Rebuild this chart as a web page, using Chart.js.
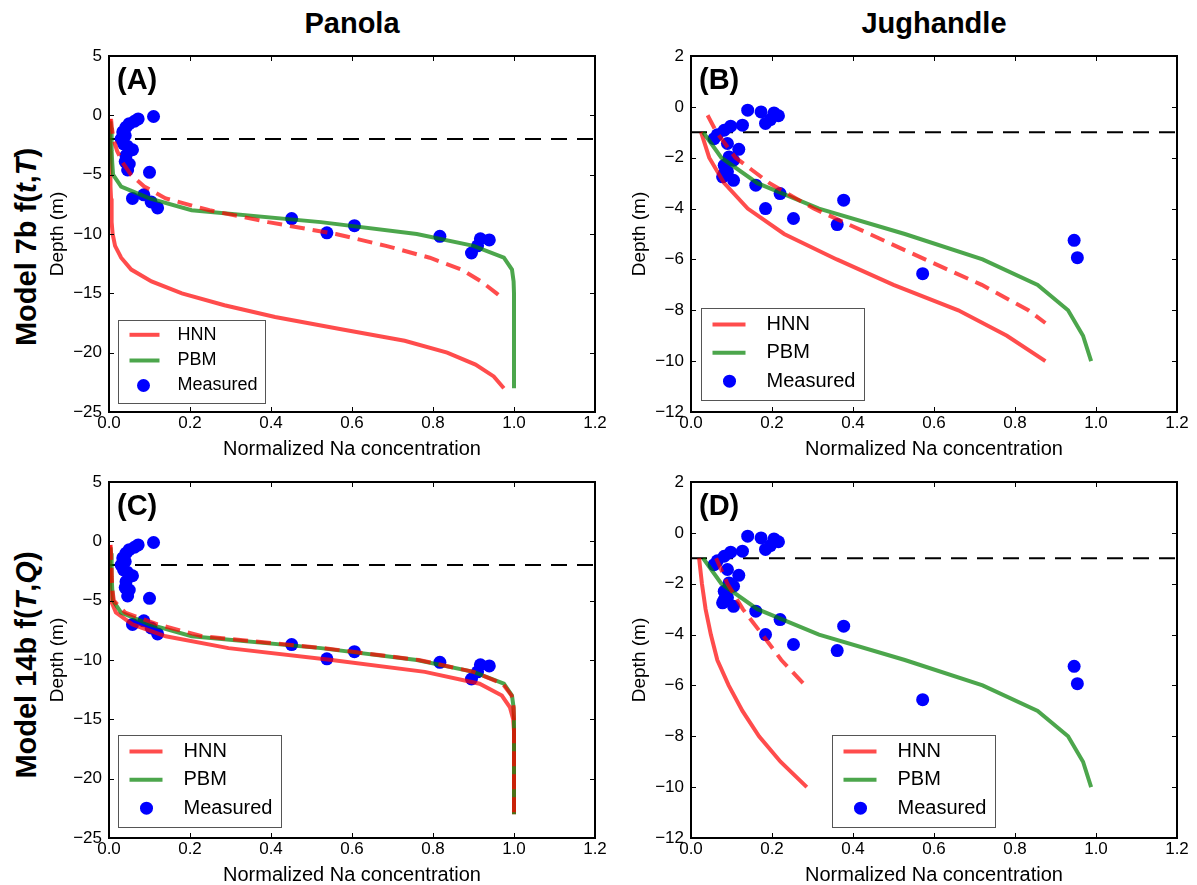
<!DOCTYPE html>
<html><head><meta charset="utf-8">
<script src="https://cdn.jsdelivr.net/npm/chart.js@4/dist/chart.umd.min.js"></script>
<style>
html,body{margin:0;padding:0;background:#fff;}
#wrap{position:relative;width:1197px;height:885px;overflow:hidden;font-family:'Liberation Sans',Arial,sans-serif;color:#000;}
canvas{position:absolute;}
.coltitle{position:absolute;font-weight:bold;font-size:29px;line-height:1;transform:translate(-50%,-50%);white-space:nowrap;}
.rowtitle{position:absolute;font-weight:bold;font-size:29px;line-height:1;transform:translate(-50%,-50%) rotate(-90deg);white-space:nowrap;}
</style></head>
<body><div id="wrap">
<div class="coltitle" style="left:352px;top:23px">Panola</div>
<div class="coltitle" style="left:934px;top:23px">Jughandle</div>
<div class="rowtitle" style="left:26px;top:247px">Model 7b f(<i>t</i>,<i>T</i>)</div>
<div class="rowtitle" style="left:26px;top:665px">Model 14b f(<i>T</i>,<i>Q</i>)</div>
<canvas id="cA" width="575" height="431" style="left:34px;top:38px"></canvas>
<canvas id="cB" width="575" height="431" style="left:616px;top:38px"></canvas>
<canvas id="cC" width="575" height="431" style="left:34px;top:464px"></canvas>
<canvas id="cD" width="575" height="431" style="left:616px;top:464px"></canvas>
</div>
<script>
// ---------- tick labels / text ----------
const xTickValues = [0, 0.2, 0.4, 0.6, 0.8, 1.0, 1.2];
const panolaYTicks = [5, 0, -5, -10, -15, -20, -25];
const jughandleYTicks = [2, 0, -2, -4, -6, -8, -10, -12];
const legendLabels = ['HNN', 'PBM', 'Measured'];
const panelLabels = ['(A)', '(B)', '(C)', '(D)'];
const xTitle = 'Normalized Na concentration';
const yTitle = 'Depth (m)';

// ---------- boundary (dashed black) depths ----------
const panolaBoundaryDepth = -2;
const jughandleBoundaryDepth = -1;

// ---------- measured ----------
const panolaMeasuredConc  = [0.110, 0.072, 0.063, 0.050, 0.042, 0.034, 0.030, 0.036, 0.040, 0.058, 0.045, 0.042, 0.050, 0.046, 0.040, 0.100, 0.058, 0.086, 0.104, 0.120, 0.451, 0.538, 0.606, 0.817, 0.895, 0.910, 0.917, 0.939];
const panolaMeasuredDepth = [-0.1, -0.3, -0.5, -0.7, -1.0, -1.4, -2.0, -2.4, -1.7, -2.9, -2.6, -3.4, -4.1, -4.6, -3.9, -4.8, -7.0, -6.7, -7.3, -7.8, -8.7, -9.9, -9.3, -10.2, -11.6, -11.0, -10.4, -10.5];

const jugMeasuredConc  = [0.140, 0.173, 0.205, 0.216, 0.184, 0.196, 0.127, 0.098, 0.082, 0.065, 0.057, 0.090, 0.118, 0.094, 0.105, 0.082, 0.090, 0.082, 0.078, 0.105, 0.160, 0.220, 0.377, 0.184, 0.253, 0.361, 0.572, 0.946, 0.954];
const jugMeasuredDepth = [-0.13, -0.20, -0.24, -0.35, -0.65, -0.50, -0.72, -0.76, -0.92, -1.10, -1.25, -1.44, -1.67, -1.97, -2.10, -2.30, -2.55, -2.62, -2.75, -2.89, -3.08, -3.41, -3.67, -4.00, -4.39, -4.63, -6.56, -5.25, -5.93];

// ---------- PBM ----------
const panolaPbmDepth = [-0.5, -1, -2, -3, -4, -5, -6, -7, -8, -9, -10, -11, -12, -13, -14, -15, -16, -17, -18, -19, -20, -21, -22, -23];
const panolaPbmConc  = [0.004, 0.005, 0.006, 0.007, 0.008, 0.010, 0.030, 0.100, 0.204, 0.523, 0.760, 0.900, 0.975, 0.995, 0.999, 1.0, 1.0, 1.0, 1.0, 1.0, 1.0, 1.0, 1.0, 1.0];

const jugPbmDepth = [-1, -2, -3, -4, -5, -6, -7, -8, -9, -10];
const jugPbmConc  = [0.030, 0.075, 0.164, 0.316, 0.528, 0.720, 0.856, 0.931, 0.968, 0.988];

// ---------- HNN, Model 7b ----------
const panola7bHnnDepth = [-0.3, -1, -2, -3, -4, -5, -6, -7, -8, -9, -10, -11, -12, -13, -14, -15, -16, -17, -18, -19, -20, -21, -22, -23];
const panola7bHnnConc  = [0.001, 0.002, 0.002, 0.003, 0.003, 0.004, 0.004, 0.005, 0.006, 0.007, 0.009, 0.015, 0.030, 0.055, 0.105, 0.180, 0.285, 0.410, 0.570, 0.730, 0.835, 0.905, 0.950, 0.975];
const panola7bHnnDashDepth = [-0.3, -1, -2, -3, -4, -5, -6, -7, -8, -9, -10, -11, -12, -13, -14, -15, -15.5];
const panola7bHnnDashConc  = [0.005, 0.007, 0.011, 0.020, 0.034, 0.054, 0.087, 0.140, 0.248, 0.393, 0.560, 0.684, 0.792, 0.871, 0.919, 0.957, 0.975];

const jug7bHnnDepth = [-1, -2, -3, -4, -5, -6, -7, -8, -9, -10];
const jug7bHnnConc  = [0.025, 0.045, 0.082, 0.140, 0.230, 0.360, 0.500, 0.660, 0.780, 0.875];
const jug7bHnnDashDepth = [-0.33, -1, -2, -3, -4, -5, -6, -7, -8, -8.5];
const jug7bHnnDashConc  = [0.041, 0.063, 0.110, 0.194, 0.303, 0.441, 0.578, 0.718, 0.833, 0.875];

// ---------- HNN, Model 14b ----------
const panola14bHnnDepth = [-0.3, -1, -2, -3, -4, -5, -6, -7, -8, -9, -10, -11, -12, -13, -14, -15, -16, -17, -18, -19, -20, -21, -22, -23];
const panola14bHnnConc  = [0.002, 0.002, 0.002, 0.003, 0.003, 0.005, 0.017, 0.058, 0.140, 0.295, 0.550, 0.780, 0.915, 0.970, 0.990, 0.998, 1, 1, 1, 1, 1, 1, 1, 1];
const panola14bHnnDashDepth = [-0.3, -1, -2, -3, -4, -5, -6, -7, -8, -9, -10, -11, -12, -13, -14, -15, -16, -17, -18, -19, -20, -21, -22, -23];
const panola14bHnnDashConc  = [0.004, 0.005, 0.006, 0.007, 0.008, 0.012, 0.040, 0.120, 0.230, 0.530, 0.765, 0.900, 0.972, 0.994, 0.999, 1, 1, 1, 1, 1, 1, 1, 1, 1];

const jug14bHnnDepth = [-1, -2, -3, -4, -5, -6, -7, -8, -9, -10];
const jug14bHnnConc  = [0.020, 0.027, 0.036, 0.049, 0.065, 0.093, 0.127, 0.168, 0.221, 0.286];
const jug14bHnnDashDepth = [-1, -2, -3, -4, -5, -6, -6.1];
const jug14bHnnDashConc  = [0.062, 0.090, 0.128, 0.176, 0.223, 0.282, 0.290];

// ---------- styling ----------
const FONT = "'Liberation Sans', Arial, sans-serif";
const RED = 'rgba(255,0,0,0.7)';
const GREEN = 'rgba(0,128,0,0.7)';
const BLUE = '#0000ff';
const MARKER_R = 6.5;

const pts = (xs, ys) => xs.map((v, i) => ({x: v, y: ys[i]}));
const fmtY = v => (v < 0 ? '\u2212' + Math.abs(v) : String(v));

const frameTicks = {
  id: 'frameTicks',
  afterDatasetsDraw(chart) {
    const {ctx, chartArea: ca, scales: {x, y}} = chart;
    ctx.save();
    ctx.strokeStyle = '#000';
    ctx.lineWidth = 1;
    ctx.beginPath();
    x.ticks.forEach(t => {
      const px = Math.round(x.getPixelForValue(t.value)) + 0.5;
      ctx.moveTo(px, ca.bottom); ctx.lineTo(px, ca.bottom - 5);
      ctx.moveTo(px, ca.top); ctx.lineTo(px, ca.top + 5);
    });
    y.ticks.forEach(t => {
      const py = Math.round(y.getPixelForValue(t.value)) + 0.5;
      ctx.moveTo(ca.left, py); ctx.lineTo(ca.left + 5, py);
      ctx.moveTo(ca.right, py); ctx.lineTo(ca.right - 5, py);
    });
    ctx.stroke();
    ctx.lineWidth = 2;
    ctx.strokeRect(ca.left, ca.top, ca.right - ca.left, ca.bottom - ca.top);
    ctx.restore();
  }
};

const boxLegend = {
  id: 'boxLegend',
  afterDraw(chart, args, o) {
    const {ctx, chartArea: ca} = chart;
    const x0 = Math.round(ca.left + o.x) + 0.5, y0 = Math.round(ca.top + o.y) + 0.5;
    ctx.save();
    ctx.fillStyle = '#fff';
    ctx.fillRect(x0, y0, o.w, o.h);
    ctx.strokeStyle = '#555';
    ctx.lineWidth = 1;
    ctx.strokeRect(x0, y0, o.w, o.h);
    const ds = chart.data.datasets;
    legendLabels.forEach((lab, i) => {
      const d = ds.find(e => e.label === lab);
      const cy = y0 + o.rowY[i];
      if (d.showLine) {
        ctx.strokeStyle = d.borderColor;
        ctx.lineWidth = d.borderWidth;
        ctx.setLineDash([]);
        ctx.beginPath();
        ctx.moveTo(x0 + o.lineX[0], cy);
        ctx.lineTo(x0 + o.lineX[1], cy);
        ctx.stroke();
      } else {
        ctx.fillStyle = d.pointBackgroundColor;
        ctx.beginPath();
        ctx.arc(x0 + o.markerX, cy, d.pointRadius, 0, Math.PI * 2);
        ctx.fill();
      }
      ctx.fillStyle = '#000';
      ctx.font = o.font + 'px ' + FONT;
      ctx.textBaseline = 'middle';
      ctx.textAlign = 'left';
      ctx.fillText(lab, x0 + o.textX, cy);
    });
    // panel tag
    ctx.font = 'bold 29px ' + FONT;
    ctx.textBaseline = 'alphabetic';
    ctx.fillStyle = '#000';
    ctx.fillText(o.tag, ca.left + 8, ca.top + 33);
    ctx.restore();
  }
};

function makePanel(p) {
  return new Chart(document.getElementById(p.id), {
    type: 'scatter',
    data: {datasets: [
      {label: 'boundary', data: pts([0, 1.2], [p.boundary, p.boundary]), showLine: true,
       borderColor: '#000', borderWidth: 2, borderDash: [16, 10], pointRadius: 0, order: 5},
      {label: 'Measured', data: pts(p.mx, p.my), showLine: false, pointRadius: MARKER_R,
       pointBackgroundColor: BLUE, pointBorderWidth: 0, pointBorderColor: BLUE, order: 4},
      {label: 'HNN', data: pts(p.hx, p.hy), showLine: true, borderColor: RED, borderWidth: 4,
       pointRadius: 0, order: 3},
      {label: 'PBM', data: pts(p.gx, p.gy), showLine: true, borderColor: GREEN, borderWidth: 4,
       pointRadius: 0, order: 2},
      {label: 'HNN dashed', data: pts(p.dx, p.dy), showLine: true, borderColor: RED, borderWidth: 4,
       borderDash: [15, 8], pointRadius: 0, order: 1}
    ]},
    options: {
      responsive: false, animation: false, devicePixelRatio: 1,
      layout: {padding: {top: 18, right: 14, left: 0, bottom: 0}},
      plugins: {legend: {display: false}, tooltip: {enabled: false},
                boxLegend: Object.assign({tag: p.tag}, p.legend)},
      scales: {
        x: {type: 'linear', min: 0, max: 1.2,
            afterBuildTicks: s => { s.ticks = xTickValues.map(v => ({value: v})); },
            afterFit: s => { s.height = 57; },
            ticks: {callback: v => v.toFixed(1), padding: 1, color: '#000', maxRotation: 0, autoSkip: false,
                    font: {family: FONT, size: 17}},
            grid: {display: false, drawTicks: false}, border: {display: false},
            title: {display: true, text: xTitle, color: '#000', font: {family: FONT, size: 20},
                    padding: {top: 0, bottom: 8}}},
        y: {type: 'linear', min: p.yTicks[p.yTicks.length - 1], max: p.yTicks[0],
            afterBuildTicks: s => { s.ticks = p.yTicks.slice().reverse().map(v => ({value: v})); },
            afterFit: s => { s.width = 75; },
            ticks: {callback: v => fmtY(v), padding: 7, color: '#000', autoSkip: false,
                    font: {family: FONT, size: 17}},
            grid: {display: false, drawTicks: false}, border: {display: false},
            title: {display: true, text: yTitle, color: '#000', font: {family: FONT, size: 19},
                    padding: {top: 12, bottom: 0}}}
      }
    },
    plugins: [frameTicks, boxLegend]
  });
}

const legendSmall = {x: 9, y: 264, w: 147, h: 83, font: 18, rowY: [14.3, 40, 65], lineX: [11, 41], markerX: 25, textX: 59};
const legendB = {x: 10, y: 252, w: 163, h: 92, font: 20, rowY: [16, 44.3, 72.7], lineX: [11, 44], markerX: 28, textX: 65};
const legendC = {x: 9, y: 253, w: 163, h: 92, font: 20, rowY: [16, 44.3, 72.7], lineX: [11, 44], markerX: 28, textX: 65};
const legendD = {x: 141, y: 253, w: 163, h: 92, font: 20, rowY: [16, 44.3, 72.7], lineX: [11, 44], markerX: 28, textX: 65};

makePanel({id: 'cA', tag: panelLabels[0], yTicks: panolaYTicks, boundary: panolaBoundaryDepth,
  mx: panolaMeasuredConc, my: panolaMeasuredDepth,
  hx: panola7bHnnConc, hy: panola7bHnnDepth, dx: panola7bHnnDashConc, dy: panola7bHnnDashDepth,
  gx: panolaPbmConc, gy: panolaPbmDepth, legend: legendSmall});
makePanel({id: 'cB', tag: panelLabels[1], yTicks: jughandleYTicks, boundary: jughandleBoundaryDepth,
  mx: jugMeasuredConc, my: jugMeasuredDepth,
  hx: jug7bHnnConc, hy: jug7bHnnDepth, dx: jug7bHnnDashConc, dy: jug7bHnnDashDepth,
  gx: jugPbmConc, gy: jugPbmDepth, legend: legendB});
makePanel({id: 'cC', tag: panelLabels[2], yTicks: panolaYTicks, boundary: panolaBoundaryDepth,
  mx: panolaMeasuredConc, my: panolaMeasuredDepth,
  hx: panola14bHnnConc, hy: panola14bHnnDepth, dx: panola14bHnnDashConc, dy: panola14bHnnDashDepth,
  gx: panolaPbmConc, gy: panolaPbmDepth, legend: legendC});
makePanel({id: 'cD', tag: panelLabels[3], yTicks: jughandleYTicks, boundary: jughandleBoundaryDepth,
  mx: jugMeasuredConc, my: jugMeasuredDepth,
  hx: jug14bHnnConc, hy: jug14bHnnDepth, dx: jug14bHnnDashConc, dy: jug14bHnnDashDepth,
  gx: jugPbmConc, gy: jugPbmDepth, legend: legendD});
</script>
</body></html>
